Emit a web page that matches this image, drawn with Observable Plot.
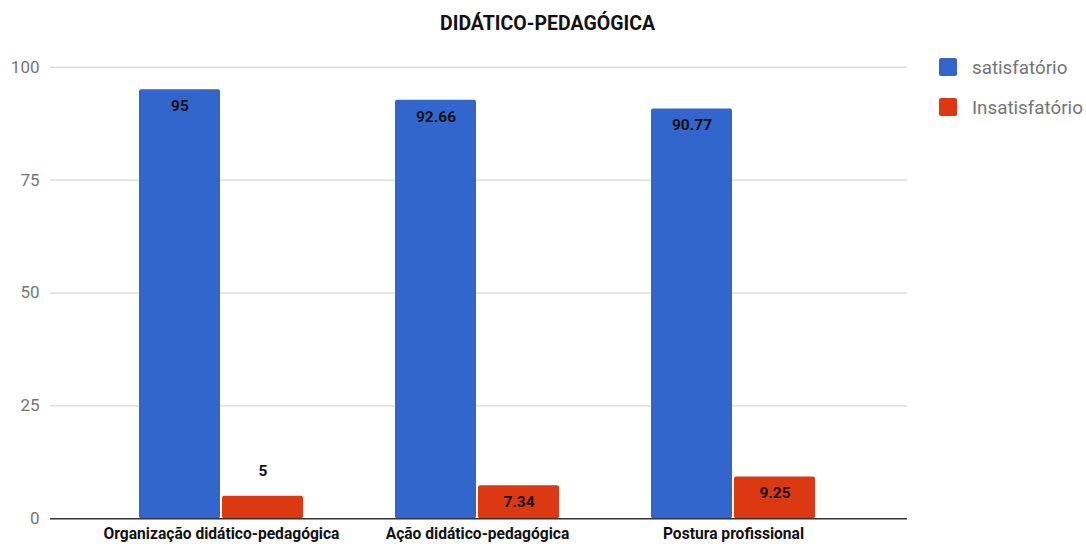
<!DOCTYPE html>
<html>
<head>
<meta charset="utf-8">
<script src="https://cdn.jsdelivr.net/npm/d3@7"></script>
<script src="https://cdn.jsdelivr.net/npm/@observablehq/plot@0.6"></script>
<style>
  html, body { margin: 0; padding: 0; background: #fff; }
  #wrap { position: relative; width: 1086px; height: 544px; overflow: hidden; font-family: Roboto, sans-serif; }
  #title { position: absolute; left: 0; width: 1095px; top: 12px; text-align: center; font-size: 19.5px; font-weight: bold; color: #111; line-height: 24px; }
  #legend { position: absolute; left: 939px; top: 58px; font-size: 18.8px; color: #757575; }
  .item { display: flex; align-items: center; height: 18px; margin-bottom: 22px; }
  .sw { width: 18px; height: 18px; border-radius: 2px; margin-right: 15px; flex: none; }
  .item span { position: relative; top: 1px; white-space: nowrap; }
  .layer { position: absolute; left: 0; top: 0; }
</style>
</head>
<body>
<div id="wrap">
  <div id="grid" class="layer"></div>
  <div id="bars" class="layer"></div>
  <div id="base" class="layer"></div>
  <div id="title"></div>
  <div id="legend"></div>
</div>
<script>
const titleText = "DIDÁTICO-PEDAGÓGICA";
const categories = ["Organização didático-pedagógica", "Ação didático-pedagógica", "Postura profissional"];
const seriesNames = ["satisfatório", "Insatisfatório"];
const satisfatorio = [95, 92.66, 90.77];
const insatisfatorio = [5, 7.34, 9.25];
const yTicks = [0, 25, 50, 75, 100];
const colors = ["#3366cc", "#dc3912"];

const data = [];
categories.forEach((c, i) => {
  data.push({cat: c, series: seriesNames[0], value: satisfatorio[i]});
  data.push({cat: c, series: seriesNames[1], value: insatisfatorio[i]});
});

document.getElementById("title").textContent = titleText;
const legend = document.getElementById("legend");
seriesNames.forEach((s, i) => {
  const it = document.createElement("div");
  it.className = "item";
  it.innerHTML = `<div class="sw" style="background:${colors[i]}"></div><span>${s}</span>`;
  legend.appendChild(it);
});

const common = {
  width: 1086,
  height: 544,
  marginLeft: 50,
  marginRight: 179,
  marginTop: 66.7,
  marginBottom: 25.7,
  style: {fontFamily: "Roboto, sans-serif", background: "transparent", overflow: "visible"},
  y: {domain: [0, 100], axis: null}
};

// Layer 1: gridlines and y axis
const gridPlot = Plot.plot({
  ...common,
  marks: [
    Plot.ruleY(yTicks.filter(d => d !== 0), {stroke: "#cccccc", strokeWidth: 1}),
    Plot.axisY(yTicks, {tickSize: 0, tickPadding: 11, fontSize: 17, fill: "#757575", label: null, anchor: "left"})
  ]
});
document.getElementById("grid").appendChild(gridPlot);

// Layer 2: grouped bars
const barPlot = Plot.plot({
  ...common,
  fx: {domain: categories, paddingInner: 0.35, paddingOuter: 0.345, align: 0.495, label: null},
  x: {domain: seriesNames, paddingInner: 0.02, paddingOuter: 0, axis: null},
  color: {domain: seriesNames, range: colors},
  marks: [
    Plot.barY(data, {fx: "cat", x: "series", y: "value", fill: "series", rx: 2}),
    Plot.text(data.filter(d => d.value >= 6), {fx: "cat", x: "series", y: "value", text: d => String(d.value), dy: 16.5, fontSize: 15.5, fontWeight: "bold", fill: "#111"}),
    Plot.text(data.filter(d => d.value < 6), {fx: "cat", x: "series", y: "value", text: d => String(d.value), dy: -25, fontSize: 15.5, fontWeight: "bold", fill: "#111"}),
    Plot.axisFx({tickSize: 0, tickPadding: 9.5, fontSize: 15.6, fontWeight: "bold", fill: "#111", label: null, anchor: "bottom"})
  ]
});
document.getElementById("bars").appendChild(barPlot);

// Layer 3: baseline
const basePlot = Plot.plot({
  ...common,
  marks: [
    Plot.ruleY([0], {stroke: "#333333", strokeWidth: 1.5})
  ]
});
document.getElementById("base").appendChild(basePlot);
</script>
</body>
</html>
